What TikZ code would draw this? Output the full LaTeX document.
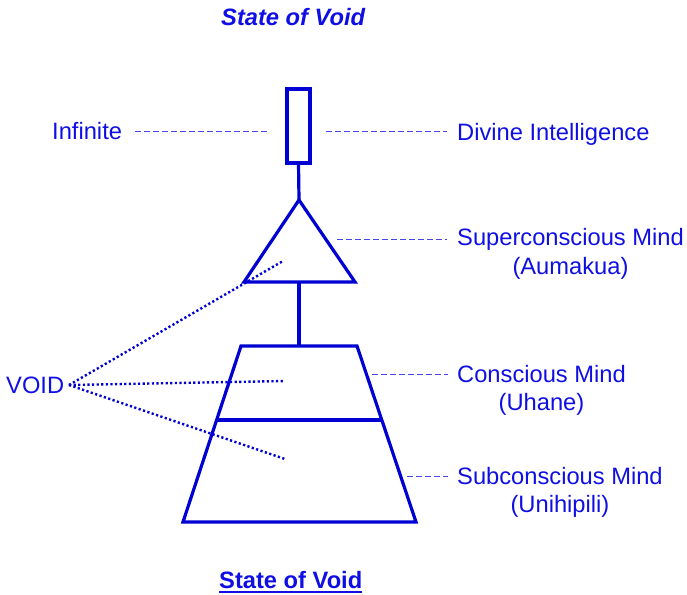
\documentclass[tikz,border=0pt]{standalone}
\usepackage{fontspec}
\setmainfont{Liberation Sans}
\definecolor{mainblue}{RGB}{0,0,210}
\definecolor{textblue}{RGB}{15,15,228}
\definecolor{leaderblue}{RGB}{70,70,232}
\begin{document}
\begin{tikzpicture}[x=1pt,y=-1pt,
  lbl/.style={inner sep=0pt,anchor=base west,text=textblue,font=\fontsize{23.7}{28.5}\selectfont},
  thick line/.style={draw=mainblue,line width=3.2pt},
  leader/.style={draw=leaderblue,line width=1pt,dash pattern=on 6pt off 3pt},
  dotline/.style={draw=mainblue,line width=2.4pt,dash pattern=on 2.2pt off 2.4pt}]
\useasboundingbox (0,0) rectangle (687,594);
% shape coordinates
\coordinate (rtl) at (287,89);
\coordinate (rbr) at (310,163);
\coordinate (rb) at (298.5,163);
\coordinate (ta) at (299,200);
\coordinate (tl) at (244,282);
\coordinate (tr) at (355,282);
\coordinate (tb) at (299,282);
\coordinate (ztl) at (241,346);
\coordinate (ztr) at (357,346);
\coordinate (zt) at (299,346);
\coordinate (zbl) at (183,522);
\coordinate (zbr) at (416,522);
\coordinate (zml) at (216.6,420);
\coordinate (zmr) at (381.8,420);
% shapes
\draw[thick line] (rtl) rectangle (rbr);
\draw[thick line] (rb) -- (ta);
\draw[thick line,line join=miter] (ta) -- (tr) -- (tl) -- cycle;
\draw[thick line] (tb) -- (zt);
\draw[thick line,line join=miter] (ztl) -- (ztr) -- (zbr) -- (zbl) -- cycle;
\draw[thick line] (zml) -- (zmr);
% labels
\node[lbl,font=\fontsize{23.7}{28.5}\selectfont\bfseries\itshape] (title) at (221,26) {State of Void};
\node[lbl] (inf) at (52,139.5) {Infinite};
\node[lbl] (div) at (457,140.5) {Divine Intelligence};
\node[lbl] (sup) at (457,245.7) {\begin{tabular}[t]{@{}c@{}}Superconscious Mind\\(Aumakua)\end{tabular}};
\node[lbl] (con) at (457,382.3) {\begin{tabular}[t]{@{}c@{}}Conscious Mind\\(Uhane)\end{tabular}};
\node[lbl] (sub) at (457,484) {\begin{tabular}[t]{@{}c@{}}Subconscious Mind\\(Unihipili)\end{tabular}};
\node[lbl] (void) at (6,393.3) {VOID};
\node[lbl,font=\fontsize{23.7}{28.5}\selectfont\bfseries] (title2) at (219,588) {State of Void};
\draw[draw=textblue,line width=2pt] ([yshift=-4pt]title2.base west) -- ([yshift=-4pt]title2.base east);
% leaders
\coordinate (infA) at (135,131.7);
\coordinate (infB) at (267,131.7);
\coordinate (divA) at (326,131.7);
\coordinate (divB) at (447,131.7);
\coordinate (supA) at (337,239.3);
\coordinate (supB) at (447,239.3);
\coordinate (conA) at (372,374.3);
\coordinate (conB) at (448,374.3);
\coordinate (subA) at (407,476.7);
\coordinate (subB) at (448,476.7);
\draw[leader] (infA) -- (infB);
\draw[leader] (divA) -- (divB);
\draw[leader] (supA) -- (supB);
\draw[leader] (conA) -- (conB);
\draw[leader] (subA) -- (subB);
% void dotted lines
\coordinate (vp) at (69,385);
\coordinate (v1) at (283,261);
\coordinate (v2) at (285,381);
\coordinate (v3) at (285,459);
\draw[dotline] (vp) -- (v1);
\draw[dotline] (vp) -- (v2);
\draw[dotline] (vp) -- (v3);
\end{tikzpicture}
\end{document}
